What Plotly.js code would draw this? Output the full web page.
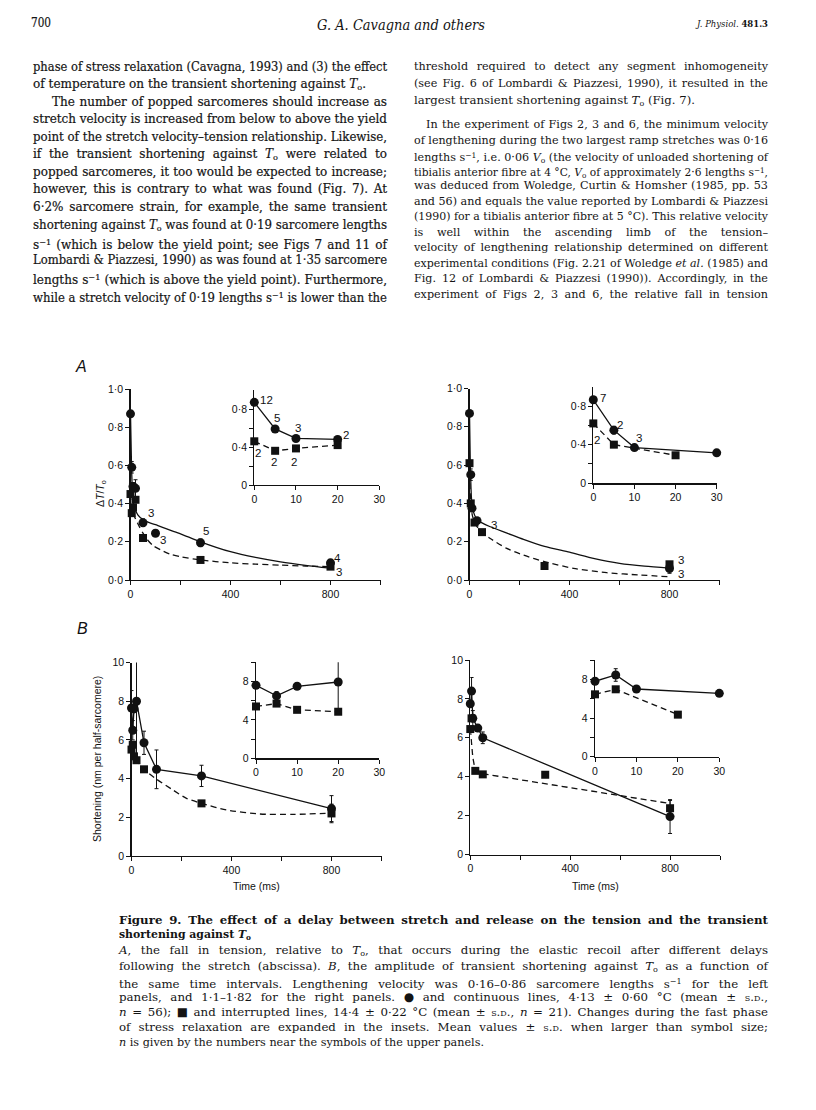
<!DOCTYPE html>
<html><head><meta charset="utf-8">
<script src="https://cdn.plot.ly/plotly-3.0.1.min.js"></script>
<style>
html,body{margin:0;padding:0;background:#fff;}
#page{position:relative;width:816px;height:1110px;overflow:hidden;background:#fff;}
#plot{position:absolute;left:0;top:0;width:816px;height:1110px;}
.ln{position:absolute;white-space:nowrap;color:#141414;font-family:"DejaVu Serif","Liberation Serif",serif;}
.ln.heavy{-webkit-text-stroke:0.2px #141414;}
.ln span.in{display:inline-block;transform-origin:0 50%;}
.ln sup,.ln sub{font-size:0.68em;}
.ln sup{vertical-align:0.45em;}
.ln sub{vertical-align:-0.25em;}
.sc{font-variant:small-caps;}
</style></head>
<body><div id="page"><div id="plot"></div></div>
<script>
// ---------------- DATA ----------------
// Panel A, left (4 degC circles, 14 degC squares), main
const tAL_c = [0,5,10,20,50,100,280,800];
const yAL_c = [0.87,0.59,0.49,0.48,0.30,0.245,0.195,0.09];
const eAL_c = [0,0.03,0.02,0.045,0.02,0.015,0.02,0.015];
const tAL_s = [0,5,10,20,50,280,800];
const yAL_s = [0.45,0.35,0.38,0.42,0.22,0.105,0.07];
const eAL_s = [0,0.015,0.015,0,0,0,0];
const fitAL_ct = [0,4,8,12,20,30,50,75,100,150,200,280,400,500,600,700,800];
const fitAL_cy = [0.87,0.6,0.46,0.40,0.365,0.34,0.316,0.30,0.29,0.265,0.242,0.2,0.148,0.118,0.095,0.077,0.062];
const fitAL_st = [0,4,10,20,35,50,65,90,120,160,200,280,400,500,600,700,800];
const fitAL_sy = [0.45,0.37,0.35,0.32,0.28,0.245,0.215,0.18,0.158,0.135,0.122,0.105,0.09,0.083,0.078,0.073,0.07];
// Panel A, left inset
const tALi_c = [0,5,10,20];
const yALi_c = [0.87,0.59,0.49,0.48];
const eALi_c = [0,0.02,0.015,0.03];
const tALi_s = [0,5,10,20];
const yALi_s = [0.46,0.36,0.385,0.42];
const eALi_s = [0,0.015,0.03,0];
// Panel A, right main
const tAR_c = [0,5,10,30,800];
const yAR_c = [0.87,0.55,0.375,0.31,0.06];
const eAR_c = [0,0.03,0,0,0.025];
const tAR_s = [0,5,20,50,300,800];
const yAR_s = [0.61,0.40,0.30,0.25,0.073,0.082];
const fitAR_ct = [0,3,6,10,20,30,50,83,150,216,300,400,500,600,700,800];
const fitAR_cy = [0.87,0.62,0.48,0.39,0.34,0.315,0.298,0.278,0.245,0.212,0.175,0.145,0.112,0.087,0.072,0.062];
const fitAR_st = [0,3,8,20,35,50,83,149,216,300,416,549,683,800];
const fitAR_sy = [0.61,0.45,0.36,0.30,0.27,0.25,0.217,0.165,0.13,0.096,0.061,0.038,0.026,0.017];
// Panel A, right inset
const tARi_c = [0,5,10,30];
const yARi_c = [0.865,0.55,0.37,0.315];
const eARi_c = [0,0.04,0,0];
const tARi_s = [0,5,20];
const yARi_s = [0.62,0.40,0.29];
// Panel B, left main
const tBL_c = [0,5,10,20,50,100,280,800];
const yBL_c = [7.65,6.5,7.6,8.0,5.85,4.48,4.14,2.45];
const eBL_c = [0.9,0.5,0,3.0,0.6,1.0,0.55,0.67];
const tBL_s = [0,5,10,20,50,280,800];
const yBL_s = [5.5,5.75,5.15,4.95,4.48,2.72,2.2];
const eBL_s = [0,0,0,0,0,0,0.48];
const fitBL_st = [0,5,10,20,50,100,167,220,280,380,513,647,800];
const fitBL_sy = [5.5,5.75,5.15,4.95,4.48,3.97,3.4,2.98,2.72,2.38,2.17,2.15,2.22];
// Panel B, left inset
const tBLi_c = [0,5,10,20];
const yBLi_c = [7.6,6.5,7.5,7.95];
const eBLi_c = [0,0.45,0,2.95];
const tBLi_s = [0,5,10,20];
const yBLi_s = [5.4,5.7,5.05,4.85];
// Panel B, right main
const tBR_c = [0,5,10,30,50,800];
const yBR_c = [7.75,8.4,7.0,6.5,6.0,1.95];
const eBR_c = [0,0.7,0.4,0,0.3,0.87];
const tBR_s = [0,5,20,50,300,800];
const yBR_s = [6.45,7.0,4.3,4.12,4.1,2.38];
const eBR_s = [0,0,0,0,0,0.4];
const fitBR_st = [0,3,10,20,50,800];
const fitBR_sy = [6.45,6.0,5.0,4.3,4.15,2.62];
// Panel B, right inset
const tBRi_c = [0,5,10,30];
const yBRi_c = [7.8,8.45,7.0,6.55];
const eBRi_c = [0,0.65,0,0];
const tBRi_s = [0,5,20];
const yBRi_s = [6.45,6.97,4.35];
// n labels [text, x, y]
const nAL = [['3',81,0.35],['3',128,0.207],['5',303,0.254],['4',828,0.114],['3',833,0.044]];
const nALi = [['12',3.0,0.895],['5',5.4,0.70],['3',10.4,0.60],['2',22,0.53],['2',1.0,0.34],['2',4.8,0.245],['2',9.6,0.245]];
const nAR = [['3',99,0.287],['3',845,0.104],['3',845,0.031]];
const nARi = [['7',2.3,0.886],['2',6.6,0.60],['2',1.0,0.447],['3',11.2,0.474]];
// tick labels
const mainXVals = [0,400,800];
const mainXText = ['0','400','800'];
const mainXMinor = [200,600,1000];
const insetXVals = [0,10,20,30];
const insetXText = ['0','10','20','30'];
const aYVals = [0,0.2,0.4,0.6,0.8,1.0];
const aYText = ['0·0','0·2','0·4','0·6','0·8','1·0'];
const aiYVals = [0,0.4,0.8];
const aiYText = ['0','0·4','0·8'];
const aiYMinor = [0.2,0.6];
const bYVals = [0,2,4,6,8,10];
const bYText = ['0','2','4','6','8','10'];
const biYVals = [0,4,8];
const biYText = ['0','4','8'];
const biYMinor = [2,6,10];

// ---------------- PLOT ----------------
const W=816,H=1110;
const dx=(a,b)=>[a/W,b/W];
const dy=(t,b)=>[1-b/H,1-t/H];
const INK='#111';
function ax(domain, anchor, range, vals, text, minor){
  const a={domain:domain, anchor:anchor, range:range, autorange:false, showline:true, linecolor:INK, linewidth:1.2,
    ticks:'outside', ticklen:4, tickwidth:1, tickcolor:INK, showgrid:false, zeroline:false,
    tickmode:'array', tickvals:vals, ticktext:text,
    tickfont:{family:'Liberation Sans, Arial, sans-serif', size:10.5, color:INK}, fixedrange:true};
  if(minor) a.minor={tickmode:'array',tickvals:minor,ticks:'outside',ticklen:4,tickwidth:1,tickcolor:INK,showgrid:false};
  return a;
}
function pts(xa,ya,t,y,sym,err,size){
  const tr={type:'scatter',mode:'markers',x:t,y:y,xaxis:xa,yaxis:ya,
    marker:{symbol:sym,size:size||9,color:INK},cliponaxis:false,hoverinfo:'skip'};
  if(err) tr.error_y={type:'data',array:err,visible:true,color:INK,thickness:1,width:2};
  return tr;
}
function lin(xa,ya,t,y,dash,shape){
  return {type:'scatter',mode:'lines',x:t,y:y,xaxis:xa,yaxis:ya,
    line:{color:INK,width:1.3,dash:dash?'6px,4px':'solid',shape:shape||'linear',smoothing:0.7},
    cliponaxis:false,hoverinfo:'skip'};
}
const CS=9, SS=8;
const traces=[
  lin('x','y',fitAL_ct,fitAL_cy,false,'spline'), lin('x','y',fitAL_st,fitAL_sy,true,'spline'),
  pts('x','y',tAL_c,yAL_c,'circle',eAL_c,CS), pts('x','y',tAL_s,yAL_s,'square',eAL_s,SS),
  lin('x2','y2',tALi_c,yALi_c,false), lin('x2','y2',tALi_s,yALi_s,true),
  pts('x2','y2',tALi_c,yALi_c,'circle',eALi_c,CS), pts('x2','y2',tALi_s,yALi_s,'square',eALi_s,SS),
  lin('x3','y3',fitAR_ct,fitAR_cy,false,'spline'), lin('x3','y3',fitAR_st,fitAR_sy,true,'spline'),
  pts('x3','y3',tAR_c,yAR_c,'circle',eAR_c,CS), pts('x3','y3',tAR_s,yAR_s,'square',null,SS),
  lin('x4','y4',tARi_c,yARi_c,false), lin('x4','y4',tARi_s,yARi_s,true),
  pts('x4','y4',tARi_c,yARi_c,'circle',eARi_c,CS), pts('x4','y4',tARi_s,yARi_s,'square',null,SS),
  lin('x5','y5',tBL_c,yBL_c,false), lin('x5','y5',fitBL_st,fitBL_sy,true,'spline'),
  pts('x5','y5',tBL_c,yBL_c,'circle',eBL_c,CS), pts('x5','y5',tBL_s,yBL_s,'square',eBL_s,SS),
  lin('x6','y6',tBLi_c,yBLi_c,false), lin('x6','y6',tBLi_s,yBLi_s,true),
  pts('x6','y6',tBLi_c,yBLi_c,'circle',eBLi_c,CS), pts('x6','y6',tBLi_s,yBLi_s,'square',null,SS),
  lin('x7','y7',tBR_c,yBR_c,false), lin('x7','y7',fitBR_st,fitBR_sy,true),
  pts('x7','y7',tBR_c,yBR_c,'circle',eBR_c,CS), pts('x7','y7',tBR_s,yBR_s,'square',eBR_s,SS),
  lin('x8','y8',tBRi_c,yBRi_c,false), lin('x8','y8',tBRi_s,yBRi_s,true),
  pts('x8','y8',tBRi_c,yBRi_c,'circle',eBRi_c,CS), pts('x8','y8',tBRi_s,yBRi_s,'square',null,SS)
];
const NF={family:'Liberation Sans, Arial, sans-serif',size:11.5,color:INK};
const ann=[];
function nl(list,xr,yr){ list.forEach(l=>ann.push({text:l[0],x:l[1],y:l[2],xref:xr,yref:yr,showarrow:false,font:NF,xanchor:'center',yanchor:'middle'})); }
nl(nAL,'x','y'); nl(nALi,'x2','y2'); nl(nAR,'x3','y3'); nl(nARi,'x4','y4');
function pa(text,px,py,opt){ ann.push(Object.assign({text:text,x:px/W,y:1-py/H,xref:'paper',yref:'paper',showarrow:false,xanchor:'center',yanchor:'middle',font:{family:'Liberation Sans, Arial, sans-serif',size:10.5,color:INK}},opt||{})); }
pa('<i>A</i>',81,367,{font:{family:'Liberation Sans, Arial, sans-serif',size:16,color:INK}});
pa('<i>B</i>',82,628,{font:{family:'Liberation Sans, Arial, sans-serif',size:16,color:INK}});
pa('Δ<i>T</i>/<i>T</i><sub>o</sub>',101,494,{textangle:-90});
pa('Shortening (nm per half-sarcomere)',97,759,{textangle:-90});
pa('Time (ms)',256,886);
pa('Time (ms)',595,886);

const layout={width:W,height:H,margin:{l:0,r:0,t:0,b:0},showlegend:false,
  paper_bgcolor:'rgba(0,0,0,0)',plot_bgcolor:'rgba(0,0,0,0)',
  xaxis:ax(dx(130.5,380.5),'y',[0,1000],mainXVals,mainXText,mainXMinor),
  yaxis:ax(dy(389,580),'x',[0,1],aYVals,aYText),
  xaxis2:ax(dx(254.3,379.3),'y2',[0,30],insetXVals,insetXText),
  yaxis2:ax(dy(390,485),'x2',[0,1],aiYVals,aiYText,aiYMinor),
  xaxis3:ax(dx(469.5,719.5),'y3',[0,1000],mainXVals,mainXText,mainXMinor),
  yaxis3:ax(dy(388.5,580),'x3',[0,1],aYVals,aYText),
  xaxis4:ax(dx(593.3,716.7),'y4',[0,30],insetXVals,insetXText),
  yaxis4:ax(dy(386.7,483.3),'x4',[0,1],aiYVals,aiYText,aiYMinor),
  xaxis5:ax(dx(131.5,381.5),'y5',[0,1000],mainXVals,mainXText,mainXMinor),
  yaxis5:ax(dy(662.5,856),'x5',[0,10],bYVals,bYText),
  xaxis6:ax(dx(256,379.3),'y6',[0,30],insetXVals,insetXText),
  yaxis6:ax(dy(662.3,758.3),'x6',[0,10],biYVals,biYText,biYMinor),
  xaxis7:ax(dx(470.3,720),'y7',[0,1000],mainXVals,mainXText,mainXMinor),
  yaxis7:ax(dy(660,854.5),'x7',[0,10],bYVals,bYText),
  xaxis8:ax(dx(595,719.3),'y8',[0,30],insetXVals,insetXText),
  yaxis8:ax(dy(660,756.7),'x8',[0,10],biYVals,biYText,biYMinor),
  annotations:ann};
Plotly.newPlot('plot',traces,layout,{staticPlot:true,displayModeBar:false});

// ---------------- PAGE TEXT ----------------
const page=document.getElementById('page');
function addLine(x,yc,w,html,o){
  const d=document.createElement('div'); d.className='ln'+(o.heavy?' heavy':'');
  const fs=o.fs, lh=Math.round(fs*1.25);
  d.style.left=x+'px'; d.style.top=(yc-lh/2-fs*0.1)+'px';
  d.style.fontSize=fs+'px'; d.style.lineHeight=lh+'px';
  if(o.bold) d.style.fontWeight='bold'; if(o.italic) d.style.fontStyle='italic';
  const s=document.createElement('span'); s.className='in'; s.innerHTML=html; d.appendChild(s);
  page.appendChild(d);
  const nat=s.getBoundingClientRect().width;
  if(o.j){
    const n=(s.textContent.match(/ /g)||[]).length;
    if(nat<=w && n>0) s.style.wordSpacing=((w-nat)/n)+'px';
    else s.style.transform='scaleX('+(w/nat)+')';
  } else if(w>0){ s.style.transform='scaleX('+(w/nat)+')'; }
}
const To='<i>T</i><sub>o</sub>', Vo='<i>V</i><sub>o</sub>', sm1='s<sup>−1</sup>', SD='<span class="sc">s.d.</span>';
// header
addLine(31,24,20,'700',{fs:12.5,heavy:1});
addLine(317,26,168,'G. A. Cavagna and others',{fs:14.5,italic:true});
addLine(697,24,71,'<i>J. Physiol.</i> <b>481.3</b>',{fs:10});
// left column  [text, justify, indent, width for unjustified]
const leftLines=[
 ['phase of stress relaxation (Cavagna, 1993) and (3) the effect',1,0],
 ['of temperature on the transient shortening against '+To+'.',0,0,333],
 ['The number of popped sarcomeres should increase as',1,19],
 ['stretch velocity is increased from below to above the yield',1,0],
 ['point of the stretch velocity–tension relationship. Likewise,',1,0],
 ['if the transient shortening against '+To+' were related to',1,0],
 ['popped sarcomeres, it too would be expected to increase;',1,0],
 ['however, this is contrary to what was found (Fig. 7). At',1,0],
 ['6·2% sarcomere strain, for example, the same transient',1,0],
 ['shortening against '+To+' was found at 0·19 sarcomere lengths',1,0],
 [sm1+' (which is below the yield point; see Figs 7 and 11 of',1,0],
 ['Lombardi &amp; Piazzesi, 1990) as was found at 1·35 sarcomere',1,0],
 ['lengths '+sm1+' (which is above the yield point). Furthermore,',1,0],
 ['while a stretch velocity of 0·19 lengths '+sm1+' is lower than the',1,0]
];
leftLines.forEach((l,i)=>addLine(33+l[2],68.3+17.55*i,l[1]?354-l[2]:l[3],l[0],{fs:12,j:l[1],heavy:1}));
// right column
const rightY=[68.3,85,101.7,126,141.7,156.7,171.7,187.3,202.7,218.3,234,249.3,265,280,295.7];
const rightLines=[
 ['threshold required to detect any segment inhomogeneity',1,0],
 ['(see Fig. 6 of Lombardi &amp; Piazzesi, 1990), it resulted in the',1,0],
 ['largest transient shortening against '+To+' (Fig. 7).',0,0,281],
 ['In the experiment of Figs 2, 3 and 6, the minimum velocity',1,12],
 ['of lengthening during the two largest ramp stretches was 0·16',1,0],
 ['lengths '+sm1+', i.e. 0·06 '+Vo+' (the velocity of unloaded shortening of',1,0],
 ['tibialis anterior fibre at 4 °C, '+Vo+' of approximately 2·6 lengths '+sm1+',',1,0],
 ['was deduced from Woledge, Curtin &amp; Homsher (1985, pp. 53',1,0],
 ['and 56) and equals the value reported by Lombardi &amp; Piazzesi',1,0],
 ['(1990) for a tibialis anterior fibre at 5 °C). This relative velocity',1,0],
 ['is well within the ascending limb of the tension–',1,0],
 ['velocity of lengthening relationship determined on different',1,0],
 ['experimental conditions (Fig. 2.21 of Woledge <i>et al.</i> (1985) and',1,0],
 ['Fig. 12 of Lombardi &amp; Piazzesi (1990)). Accordingly, in the',1,0],
 ['experiment of Figs 2, 3 and 6, the relative fall in tension',1,0]
];
rightLines.forEach((l,i)=>addLine(414+l[2],rightY[i],l[1]?354-l[2]:l[3],l[0],{fs:11.2,j:l[1]}));
// caption
const capY=[921.7,936,951.7,967.3,982.7,998.3,1013.3,1029,1044];
const capLines=[
 ['Figure 9. The effect of a delay between stretch and release on the tension and the transient',1,1],
 ['shortening against '+To,0,1,132],
 ['<i>A</i>, the fall in tension, relative to '+To+', that occurs during the elastic recoil after different delays',1,0],
 ['following the stretch (abscissa). <i>B</i>, the amplitude of transient shortening against '+To+' as a function of',1,0],
 ['the same time intervals. Lengthening velocity was 0·16–0·86 sarcomere lengths '+sm1+' for the left',1,0],
 ['panels, and 1·1–1·82 for the right panels. ● and continuous lines, 4·13 ± 0·60 °C (mean ± '+SD+',',1,0],
 ['<i>n</i> = 56); ■ and interrupted lines, 14·4 ± 0·22 °C (mean ± '+SD+', <i>n</i> = 21). Changes during the fast phase',1,0],
 ['of stress relaxation are expanded in the insets. Mean values ± '+SD+' when larger than symbol size;',1,0],
 ['<i>n</i> is given by the numbers near the symbols of the upper panels.',0,0,365]
];
capLines.forEach((l,i)=>addLine(119,capY[i],l[1]?649:l[3],l[0],{fs:11.8,j:l[1],bold:l[2]}));
</script>
</body></html>
